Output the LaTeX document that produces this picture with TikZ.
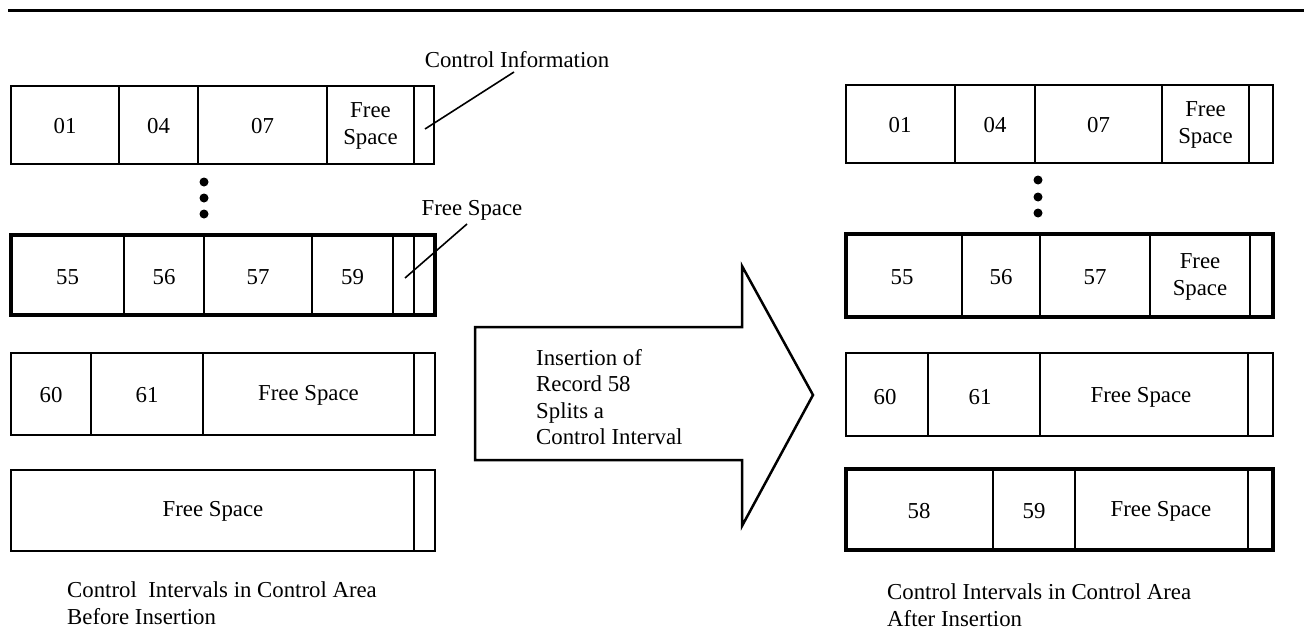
\documentclass[tikz,border=0pt]{standalone}
\usepackage{fontspec}
\setmainfont{Liberation Serif}
\begin{document}
\begin{tikzpicture}[x=1pt,y=-1pt,
  font=\fontsize{22.8}{26.5}\selectfont,
  box/.style={draw, line width=2.5pt},
  tbox/.style={draw, line width=4.5pt},
  div/.style={line width=2pt},
  txt/.style={inner sep=0pt, align=center},
  dotf/.style={fill=black},
  leader/.style={line width=1.6pt}]
\useasboundingbox (0,0) rectangle (1304,629);
% top rule
\draw[line width=3pt] (8,10) -- (1304,10);

% ---------------- LEFT: before insertion ----------------
% row 1
\draw[box] (11,86) rectangle (434,164);
\draw[div] (119,86) -- (119,164) (198,86) -- (198,164) (327,86) -- (327,164) (414,86) -- (414,164);
\node[txt] (l1a) at (65,126) {01};
\node[txt] (l1b) at (158.5,126) {04};
\node[txt] (l1c) at (262.5,126) {07};
\node[txt] (l1d) at (370.5,126) {Free\\Space};
\coordinate (l1ci) at (425,129);
% dots
\fill[dotf] (204,182) circle (4.5) (204,198) circle (4.5) (204,214) circle (4.5);
% row 2
\draw[tbox] (11,235) rectangle (435,315);
\draw[div] (124,235) -- (124,315) (204,235) -- (204,315) (312,235) -- (312,315) (393,235) -- (393,315) (414,235) -- (414,315);
\node[txt] (l2a) at (67.5,277) {55};
\node[txt] (l2b) at (164,277) {56};
\node[txt] (l2c) at (258,277) {57};
\node[txt] (l2d) at (352.5,277) {59};
\coordinate (l2fs) at (405,278);
% row 3
\draw[box] (11,353) rectangle (435,435);
\draw[div] (91,353) -- (91,435) (203,353) -- (203,435) (414,353) -- (414,435);
\node[txt] (l3a) at (51,395) {60};
\node[txt] (l3b) at (147,395) {61};
\node[txt] (l3c) at (308.5,395) {Free Space};
% row 4
\draw[box] (11,470) rectangle (435,551);
\draw[div] (414,470) -- (414,551);
\node[txt] (l4a) at (213,511) {Free Space};
% labels
\node[txt] (ci) at (517,60) {Control Information};
\node[txt] (fs) at (472,210) {Free Space};
\coordinate (cie) at (514,72);
\coordinate (fse) at (467,224);
\draw[leader] (l1ci) -- (cie);
\draw[leader] (l2fs) -- (fse);
% caption
\node[anchor=west, align=left, inner sep=0pt] (capL) at (67,603) {Control~ Intervals in Control Area\\Before Insertion};

% ---------------- ARROW ----------------
\draw[line width=2.5pt, line join=miter] (475,327) -- (742,327) -- (742,266) -- (813,395) -- (742,526) -- (742,460) -- (475,460) -- cycle;
\node[anchor=west, align=left, inner sep=0pt] (arr) at (536,397) {Insertion of\\Record 58\\Splits a\\Control Interval};

% ---------------- RIGHT: after insertion ----------------
% row 1
\draw[box] (846,85) rectangle (1273,163);
\draw[div] (955,85) -- (955,163) (1035,85) -- (1035,163) (1162,85) -- (1162,163) (1249,85) -- (1249,163);
\node[txt] (r1a) at (900,125) {01};
\node[txt] (r1b) at (995,125) {04};
\node[txt] (r1c) at (1098.5,125) {07};
\node[txt] (r1d) at (1205.5,125) {Free\\Space};
% dots
\fill[dotf] (1038,180) circle (4.5) (1038,197) circle (4.5) (1038,213) circle (4.5);
% row 2
\draw[tbox] (846,234) rectangle (1273,317);
\draw[div] (962,234) -- (962,317) (1040,234) -- (1040,317) (1150,234) -- (1150,317) (1250,234) -- (1250,317);
\node[txt] (r2a) at (902,277) {55};
\node[txt] (r2b) at (1001,277) {56};
\node[txt] (r2c) at (1095,277) {57};
\node[txt] (r2d) at (1200,277) {Free\\Space};
% row 3
\draw[box] (846,353) rectangle (1273,436);
\draw[div] (928,353) -- (928,436) (1040,353) -- (1040,436) (1248,353) -- (1248,436);
\node[txt] (r3a) at (885,397) {60};
\node[txt] (r3b) at (980,397) {61};
\node[txt] (r3c) at (1141,397) {Free Space};
% row 4
\draw[tbox] (846,469) rectangle (1273,550);
\draw[div] (993,469) -- (993,550) (1075,469) -- (1075,550) (1248,469) -- (1248,550);
\node[txt] (r4a) at (919,511) {58};
\node[txt] (r4b) at (1034,511) {59};
\node[txt] (r4c) at (1161,511) {Free Space};
% caption
\node[anchor=west, align=left, inner sep=0pt] (capR) at (887,605) {Control Intervals in Control Area\\After Insertion};
\end{tikzpicture}
\end{document}
